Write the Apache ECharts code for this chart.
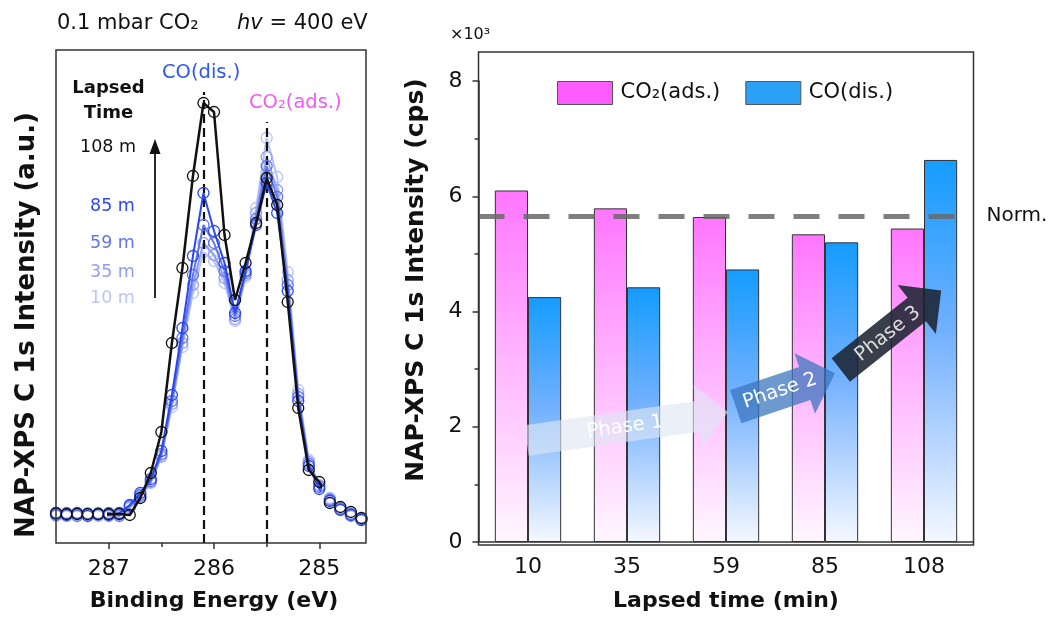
<!DOCTYPE html>
<html>
<head>
<meta charset="utf-8">
<script src="https://cdn.jsdelivr.net/npm/echarts@6/dist/echarts.min.js"></script>
<style>
  html, body { margin: 0; padding: 0; background: #fff; }
  #chart { width: 1050px; height: 617px; }
</style>
</head>
<body>
<div id="chart"></div>
<script>
// ---- left panel: NAP-XPS C 1s spectra (a.u.) ----
const energies = [287.5, 287.4, 287.3, 287.2, 287.1, 287.0, 286.9, 286.8, 286.7, 286.6,
                  286.5, 286.4, 286.3, 286.2, 286.1, 286.0, 285.9, 285.8, 285.7, 285.6,
                  285.5, 285.4, 285.3, 285.2, 285.1, 285.0, 284.9, 284.8, 284.7, 284.6];
const spec10 = [27, 29, 28, 30, 27, 29, 28, 35, 46, 60, 86, 136, 196, 250, 291, 282, 260, 222, 266, 335,
                405, 366, 271, 153, 83, 58, 45, 35, 29, 25];
const spec35 = [30, 27, 29, 28, 30, 27, 29, 36, 47, 61, 87, 139, 200, 258, 300, 288, 265, 224, 268, 330,
                386, 353, 263, 149, 81, 57, 44, 34, 27, 23];
const spec59 = [28, 30, 27, 29, 28, 30, 27, 37, 48, 62, 89, 142, 205, 268, 318, 300, 272, 227, 270, 324,
                377, 346, 258, 146, 79, 56, 43, 34, 29, 24];
const spec85 = [29, 28, 30, 27, 29, 28, 30, 38, 50, 64, 92, 148, 215, 287, 350, 312, 280, 230, 272, 318,
                360, 330, 252, 142, 77, 54, 42, 33, 28, 23];
const spec108 = [30, 29, 29, 29, 29, 29, 29, 28, 45, 70, 111, 200, 275, 367, 440, 431, 308, 243, 280, 320,
                 365, 338, 241, 135, 73, 61, 40, 36, 31, 25];
const peakEnergies = [286.1, 285.5];
const peakLineTops = [451, 421];

// ---- right panel: peak intensities (x10^3 cps) ----
const lapsedTimes = ['10', '35', '59', '85', '108'];
const co2Ads = [6.10, 5.79, 5.64, 5.34, 5.44];
const coDis = [4.25, 4.42, 4.73, 5.20, 6.63];
const normLevel = 5.66;

const F = '"DejaVu Sans"';
const chart = echarts.init(document.getElementById('chart'));

function spectrum(name, values, color, width, z) {
  return {
    type: 'line', name: name, xAxisIndex: 0, yAxisIndex: 0,
    data: energies.map(function (e, i) { return [e, values[i]]; }),
    clip: false, showAllSymbol: true, symbol: 'circle', symbolSize: 11,
    lineStyle: { color: color, width: width },
    itemStyle: { color: 'rgba(0,0,0,0)', borderColor: color, borderWidth: 1.3 },
    silent: true, z: z
  };
}

function txt(x, y, text, font, fill, extra) {
  return { type: 'text', x: x, y: y, z: 60,
    style: Object.assign({ text: text, font: font, fill: fill || '#111', align: 'left', verticalAlign: 'middle' }, extra || {}) };
}

const blackLine = spectrum('108 m', spec108, '#111', 2.5, 10);
blackLine.markLine = {
  silent: true, symbol: ['none', 'none'], label: { show: false },
  lineStyle: { type: [9, 5], color: '#111', width: 2.2 },
  data: peakEnergies.map(function (e, i) { return [{ coord: [e, 0] }, { coord: [e, peakLineTops[i]] }]; })
};

const option = {
  animation: false,
  grid: [
    { left: 108.7, top: 50, width: 210.6, height: 493 },
    { left: 478.5, top: 81, width: 495, height: 464 }
  ],
  xAxis: [
    {
      type: 'value', gridIndex: 0, min: 285, max: 287, interval: 1, inverse: true,
      axisLine: { show: false },
      axisTick: { show: true, length: 6, lineStyle: { color: '#333', width: 1.5 } },
      minorTick: { show: true, splitNumber: 2, length: 4, lineStyle: { color: '#333', width: 1.5 } },
      splitLine: { show: false },
      axisLabel: { fontFamily: F, fontSize: 22, color: '#111', margin: 15 },
      name: 'Binding Energy (eV)', nameLocation: 'middle', nameGap: 47,
      nameTextStyle: { fontFamily: F, fontSize: 22, fontWeight: 'bold', color: '#111' }
    },
    {
      type: 'category', gridIndex: 1, data: lapsedTimes,
      axisLine: { lineStyle: { color: '#333', width: 1.5 } },
      axisTick: { alignWithLabel: true, length: 6, lineStyle: { color: '#333', width: 1.5 } },
      axisLabel: { fontFamily: F, fontSize: 22, color: '#111', margin: 14 },
      name: 'Lapsed time (min)', nameLocation: 'middle', nameGap: 48,
      nameTextStyle: { fontFamily: F, fontSize: 22, fontWeight: 'bold', color: '#111' }
    }
  ],
  yAxis: [
    { type: 'value', gridIndex: 0, min: 0, max: 493, show: false },
    {
      type: 'value', gridIndex: 1, min: 0, max: 8, interval: 2,
      axisLine: { show: true, lineStyle: { color: '#333', width: 1.5 } },
      axisTick: { show: true, length: 6, lineStyle: { color: '#333', width: 1.5 } },
      minorTick: { show: true, splitNumber: 2, length: 4, lineStyle: { color: '#333', width: 1.5 } },
      splitLine: { show: false },
      axisLabel: { fontFamily: F, fontSize: 22, color: '#111', margin: 16 }
    }
  ],
  legend: {
    left: 557, top: 81, padding: 0, itemWidth: 55, itemHeight: 23, itemGap: 25, icon: 'rect',
    selectedMode: false,
    textStyle: { fontFamily: F, fontSize: 21, color: '#111', padding: [0, 0, 0, 3] },
    data: [
      { name: 'CO₂(ads.)', itemStyle: { color: '#ff5cff', borderColor: '#555', borderWidth: 1 } },
      { name: 'CO(dis.)', itemStyle: { color: '#2aa0f7', borderColor: '#555', borderWidth: 1 } }
    ]
  },
  series: [
    spectrum('10 m', spec10, '#b7c1f6', 2, 3),
    spectrum('35 m', spec35, '#8f9df0', 2, 4),
    spectrum('59 m', spec59, '#6075eb', 2, 5),
    spectrum('85 m', spec85, '#2c46ee', 2, 6),
    blackLine,
    {
      type: 'bar', name: 'CO₂(ads.)', xAxisIndex: 1, yAxisIndex: 1, data: co2Ads,
      barGap: '0%', barCategoryGap: '33%',
      itemStyle: {
        color: new echarts.graphic.LinearGradient(0, 0, 0, 1, [
          { offset: 0, color: '#ff76ff' }, { offset: 0.5, color: '#ffb8ff' }, { offset: 1, color: '#fff7ff' }
        ]),
        borderColor: '#333', borderWidth: 1
      },
      silent: true
    },
    {
      type: 'bar', name: 'CO(dis.)', xAxisIndex: 1, yAxisIndex: 1, data: coDis,
      barGap: '0%', barCategoryGap: '33%',
      itemStyle: {
        color: new echarts.graphic.LinearGradient(0, 0, 0, 1, [
          { offset: 0, color: '#149cff' }, { offset: 0.45, color: '#72b0ff' }, { offset: 1, color: '#f5f8ff' }
        ]),
        borderColor: '#333', borderWidth: 1
      },
      silent: true,
      markLine: {
        silent: true, symbol: ['none', 'none'],
        lineStyle: { type: [26, 19], color: 'rgba(105,105,105,0.85)', width: 5 },
        label: { show: true, position: 'end', formatter: 'Norm.', fontFamily: F, fontSize: 20, color: '#111', distance: 13 },
        data: [{ yAxis: normLevel }]
      }
    }
  ],
  graphic: [
    // panel frames
    { type: 'rect', z: 50, shape: { x: 56, y: 50, width: 310, height: 493 }, style: { fill: 'none', stroke: '#333', lineWidth: 1.5 } },
    { type: 'rect', z: 50, shape: { x: 478.5, y: 52, width: 495, height: 493 }, style: { fill: 'none', stroke: '#333', lineWidth: 1.5 } },
    // header texts
    txt(57, 24, '0.1 mbar CO₂', '21px ' + F),
    txt(237, 24, '{i|hv} = 400 eV', '21px ' + F, '#111', { rich: { i: { fontStyle: 'italic', fontSize: 21, fontFamily: 'DejaVu Sans' } } }),
    txt(162, 73, 'CO(dis.)', '19.5px ' + F, '#2f56f2'),
    txt(249, 103, 'CO₂(ads.)', '19.5px ' + F, '#f25af2'),
    txt(108.5, 88, 'Lapsed', 'bold 18px ' + F, '#111', { align: 'center' }),
    txt(108.5, 113, 'Time', 'bold 18px ' + F, '#111', { align: 'center' }),
    txt(80, 147, '108 m', '17.5px ' + F, '#111'),
    txt(90, 206, '85 m', '17.5px ' + F, '#2d48ee'),
    txt(90, 243, '59 m', '17.5px ' + F, '#6176ea'),
    txt(90, 272, '35 m', '17.5px ' + F, '#909ef0'),
    txt(90, 298, '10 m', '17.5px ' + F, '#bcc5f6'),
    { type: 'line', z: 60, shape: { x1: 155, y1: 298, x2: 155, y2: 150 }, style: { stroke: '#111', lineWidth: 1.8 } },
    { type: 'polygon', z: 60, shape: { points: [[149.5, 154], [155, 139], [160.5, 154]] }, style: { fill: '#111' } },
    // axis titles
    { type: 'text', x: 27, y: 325, rotation: Math.PI / 2, z: 60,
      style: { text: 'NAP-XPS C 1s Intensity (a.u.)', font: 'bold 26px ' + F, fill: '#111', align: 'center', verticalAlign: 'middle' } },
    { type: 'text', x: 416, y: 280, rotation: Math.PI / 2, z: 60,
      style: { text: 'NAP-XPS C 1s Intensity (cps)', font: 'bold 25px ' + F, fill: '#111', align: 'center', verticalAlign: 'middle' } },
    txt(450, 35, '×10³', '16px ' + F),
    // phase arrows
    { type: 'polygon', z: 40, shape: { points: [[524.3, 425.2], [695.6, 401], [693.5, 385.6], [728, 412], [702.1, 447], [700, 431.6], [528.7, 455.8]] },
      style: { fill: 'rgba(222,231,244,0.62)' } },
    { type: 'polygon', z: 40, shape: { points: [[730.2, 390.1], [799.2, 366.9], [794.6, 353.2], [835, 373.3], [815, 413.8], [810.4, 400.1], [741.4, 423.3]] },
      style: { fill: 'rgba(58,118,190,0.74)' } },
    { type: 'polygon', z: 40, shape: { points: [[831.6, 358.3], [907.6, 297.8], [897.7, 285.1], [941.2, 290.4], [935.9, 333.9], [926, 321.2], [850, 381.7]] },
      style: { fill: 'rgba(28,36,50,0.88)' } },
    { type: 'text', x: 625, y: 427, rotation: 0.14, z: 45,
      style: { text: 'Phase 1', font: '19.5px ' + F, fill: '#ffffff', align: 'center', verticalAlign: 'middle',
        shadowColor: 'rgba(0,0,0,0.55)', shadowBlur: 2, shadowOffsetX: 1, shadowOffsetY: 1 } },
    { type: 'text', x: 780, y: 391, rotation: 0.325, z: 45,
      style: { text: 'Phase 2', font: '19.5px ' + F, fill: '#ffffff', align: 'center', verticalAlign: 'middle',
        shadowColor: 'rgba(0,0,0,0.5)', shadowBlur: 2, shadowOffsetX: 1, shadowOffsetY: 1 } },
    { type: 'text', x: 888, y: 334, rotation: 0.664, z: 45,
      style: { text: 'Phase 3', font: '19.5px ' + F, fill: '#dddddd', align: 'center', verticalAlign: 'middle' } }
  ]
};

chart.setOption(option);
</script>
</body>
</html>
